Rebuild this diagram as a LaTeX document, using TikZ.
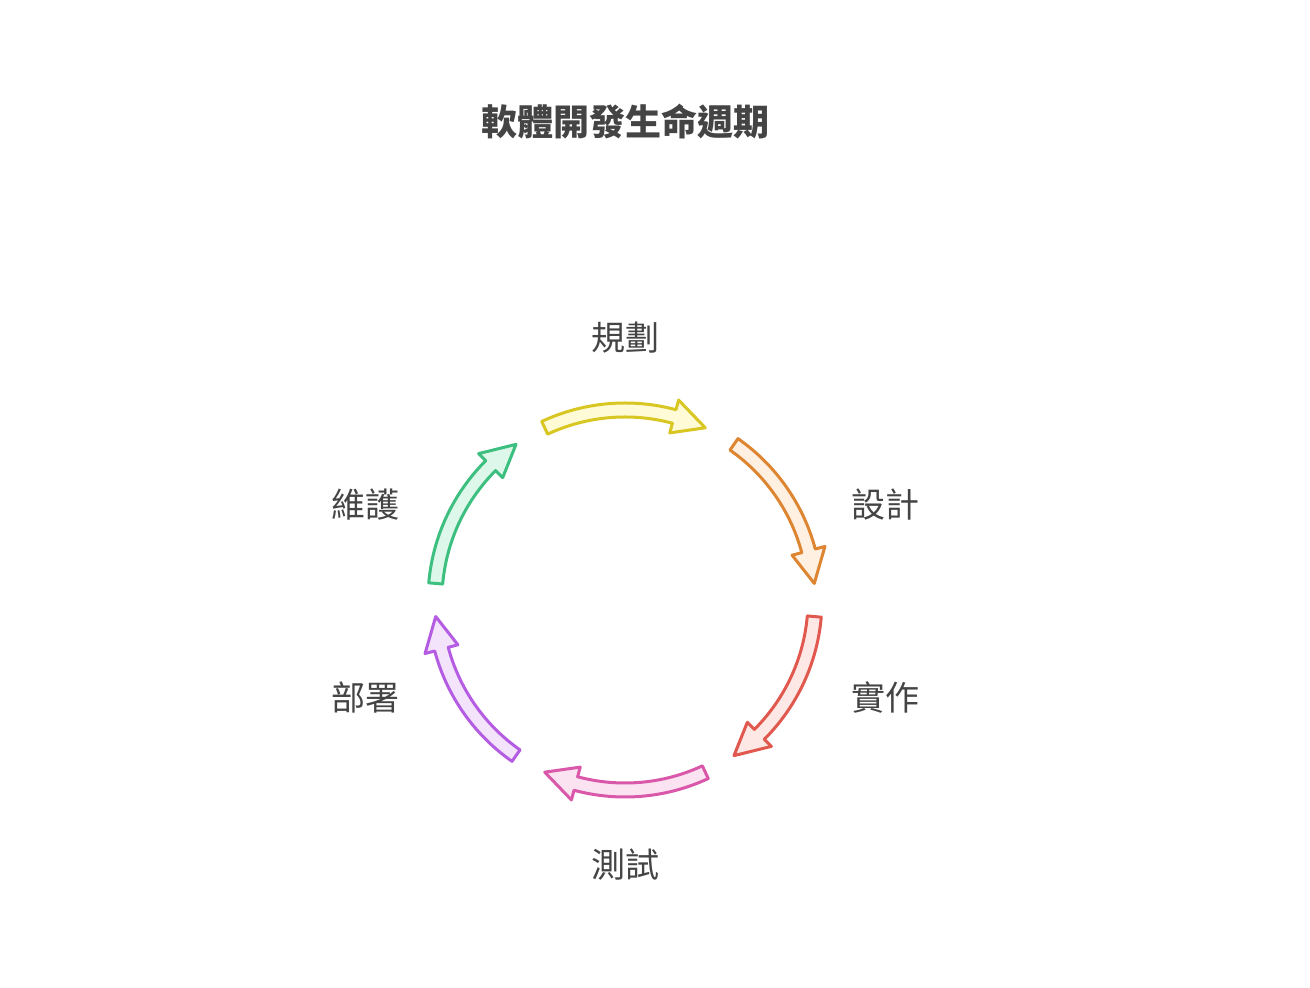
\documentclass[tikz,border=0pt]{standalone}
\usepackage{fontspec}
\setmainfont{Noto Sans CJK TC}
\definecolor{txt}{HTML}{444444}
\definecolor{ylwD}{HTML}{D8C623}\definecolor{ylwL}{HTML}{FEFBD6}
\definecolor{orgD}{HTML}{DE8532}\definecolor{orgL}{HTML}{FFF0E2}
\definecolor{redD}{HTML}{E0584E}\definecolor{redL}{HTML}{FDE8E6}
\definecolor{pnkD}{HTML}{D958A9}\definecolor{pnkL}{HTML}{FBE3F2}
\definecolor{prpD}{HTML}{B55DE2}\definecolor{prpL}{HTML}{F3E4FC}
\definecolor{grnD}{HTML}{3DBF80}\definecolor{grnL}{HTML}{DDF8EA}
\def\rad{190}
\begin{document}
\begin{tikzpicture}[x=1pt,y=1pt,
    lbl/.style={text=txt,font=\fontsize{34}{40}\selectfont},
    cyclearrow/.style={line width=3pt,line join=round}
  ]
  \useasboundingbox (0,0) rectangle (1310,988);
  \coordinate (ctr) at (625,388);
  % title
  \node[lbl,font=\bfseries\fontsize{36}{42}\selectfont] (title) at (625,866) {軟體開發生命週期};
  % arrows
  \foreach \a/\cd/\cl in {115/ylwD/ylwL, 55/orgD/orgL, -5/redD/redL,
                          -65/pnkD/pnkL, -125/prpD/prpL, 175/grnD/grnL}{
    \pgfmathsetmacro\b{\a-50}
    \pgfmathsetmacro\h{\b+10}
    \draw[cyclearrow,draw=\cd,fill=\cl]
      ([shift={(ctr)}]\a:\rad+7) arc[start angle=\a,end angle=\h,radius=\rad+7]
      -- ([shift={(ctr)}]\h:\rad+17) -- ([shift={(ctr)}]\b:\rad)
      -- ([shift={(ctr)}]\h:\rad-17) -- ([shift={(ctr)}]\h:\rad-7)
      arc[start angle=\h,end angle=\a,radius=\rad-7] -- cycle;
  }
  % labels
  \node[lbl] (plan)   at (625,650) {規劃};
  \node[lbl] (design) at (885,483) {設計};
  \node[lbl] (impl)   at (885,291) {實作};
  \node[lbl] (test)   at (625,123) {測試};
  \node[lbl] (deploy) at (365,291) {部署};
  \node[lbl] (maint)  at (365,483) {維護};
\end{tikzpicture}
\end{document}
